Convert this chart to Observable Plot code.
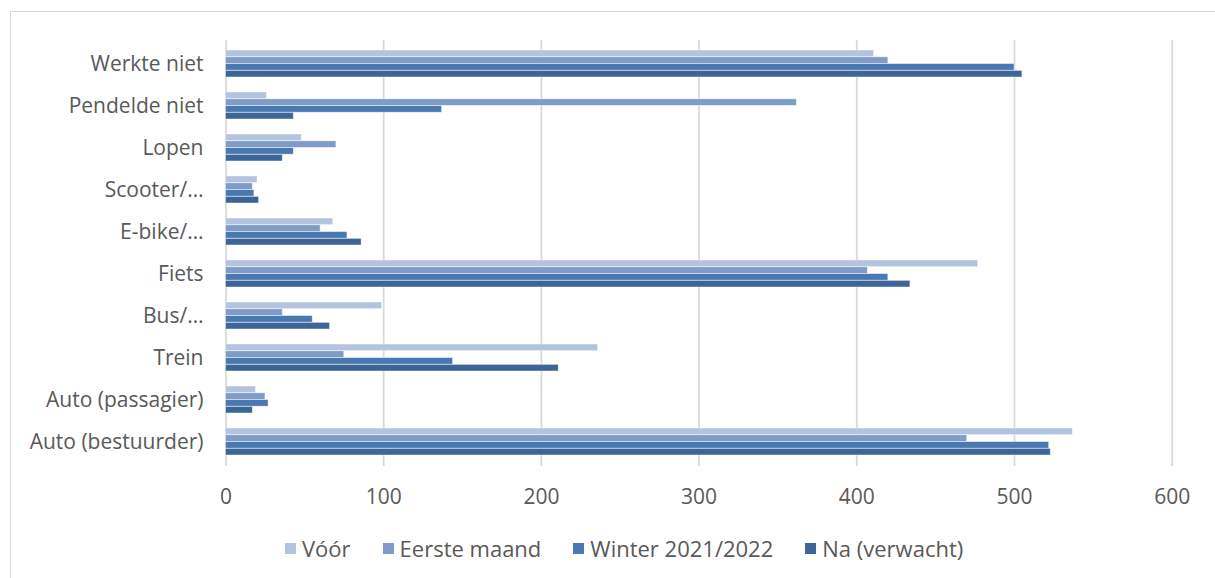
<!DOCTYPE html>
<html>
<head>
<meta charset="utf-8">
<script src="https://cdn.jsdelivr.net/npm/d3@7"></script>
<script src="https://cdn.jsdelivr.net/npm/@observablehq/plot@0.6"></script>
<style>
  html, body { margin: 0; padding: 0; background: #fff; }
  #wrap { position: relative; width: 1215px; height: 578px; overflow: hidden; font-family: "Open Sans", sans-serif; color: #595959; }
  #frame { position: absolute; left: 10px; top: 11px; width: 1230px; height: 600px; border: 1px solid #d9d9d9; box-sizing: border-box; }
  #chart { position: absolute; left: 0; top: 0; }
  #legend { position: absolute; left: 285px; top: 534px; display: flex; align-items: center; font-size: 22px; line-height: 28px; white-space: nowrap; }
  .item { display: flex; align-items: center; margin-right: 32px; }
  .swatch { width: 11px; height: 11px; margin-right: 6px; }
</style>
</head>
<body>
<div id="wrap">
  <div id="frame"></div>
  <div id="chart"></div>
  <div id="legend"></div>
</div>
<script>
// Commute mode, before / during / after the pandemic
const categories = ["Werkte niet", "Pendelde niet", "Lopen", "Scooter/…", "E-bike/…", "Fiets", "Bus/…", "Trein", "Auto (passagier)", "Auto (bestuurder)"];
const series = ["Vóór", "Eerste maand", "Winter 2021/2022", "Na (verwacht)"];
const voor        = [411,  26, 48, 20, 68, 477, 99, 236, 19, 537];
const eersteMaand = [420, 362, 70, 17, 60, 407, 36,  75, 25, 470];
const winter      = [500, 137, 43, 18, 77, 420, 55, 144, 27, 522];
const na          = [505,  43, 36, 21, 86, 434, 66, 211, 17, 523];
const xTicks = [0, 100, 200, 300, 400, 500, 600];
const colors = ["#b4c3de", "#7f9cc8", "#4a78b0", "#3d6598"];

const values = [voor, eersteMaand, winter, na];

// Layout of the bar groups
const W = 1215, H = 520;
const yRange = [40.5, 464.5];
const padIn = 0.36, padOut = 0.18;
const step = (yRange[1] - yRange[0]) / (categories.length - padIn + 2 * padOut);
const band = step * (1 - padIn);
const slot = band / series.length;

const barMarks = series.map((name, i) =>
  Plot.barX(categories.map((c, j) => ({category: c, value: values[i][j], series: name})), {
    x: "value",
    y: "category",
    fill: colors[i],
    stroke: "#ffffff",
    strokeOpacity: 0.55,
    strokeWidth: 0.8,
    insetTop: i * slot,
    insetBottom: (series.length - 1 - i) * slot
  })
);

const chart = Plot.plot({
  width: W,
  height: H,
  marginLeft: 225,
  marginRight: 43,
  marginTop: 40,
  marginBottom: 54,
  style: {fontFamily: "Open Sans, sans-serif", fontSize: "21px", color: "#595959", background: "transparent"},
  x: {domain: [0, 600], range: [225.5, 1171.7]},
  y: {domain: categories, range: yRange, paddingInner: padIn, paddingOuter: padOut},
  marks: [
    Plot.ruleX(xTicks, {stroke: "#d9d9d9", strokeWidth: 1.75}),
    ...barMarks,
    Plot.axisX({ticks: xTicks, tickSize: 0, tickPadding: 23, fontSize: 21, fill: "#595959", label: null}),
    Plot.axisY({tickSize: 0, tickPadding: 22, fontSize: 21, fill: "#595959", label: null})
  ]
});
document.getElementById("chart").appendChild(chart);

// Legend below the plot
const legend = document.getElementById("legend");
series.forEach((name, i) => {
  const item = document.createElement("div");
  item.className = "item";
  const sw = document.createElement("span");
  sw.className = "swatch";
  sw.style.background = colors[i];
  const label = document.createElement("span");
  label.textContent = name;
  item.appendChild(sw);
  item.appendChild(label);
  legend.appendChild(item);
});
</script>
</body>
</html>
